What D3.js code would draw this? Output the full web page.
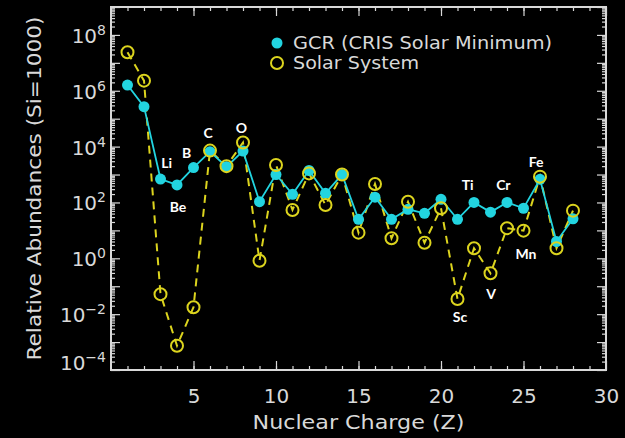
<!DOCTYPE html>
<html>
<head>
<meta charset="utf-8">
<script src="https://cdn.jsdelivr.net/npm/d3@7"></script>
<style>
  html, body { margin: 0; padding: 0; background: #000; }
  svg { display: block; }
</style>
</head>
<body>
<svg id="chart" width="625" height="438"></svg>
<script>
// element symbols and nuclear charge
const elements = ["H", "He", "Li", "Be", "B", "C", "N", "O", "F", "Ne", "Na", "Mg", "Al", "Si",
  "P", "S", "Cl", "Ar", "K", "Ca", "Sc", "Ti", "V", "Cr", "Mn", "Fe", "Co", "Ni"];
const charge = [1, 2, 3, 4, 5, 6, 7, 8, 9, 10, 11, 12, 13, 14,
  15, 16, 17, 18, 19, 20, 21, 22, 23, 24, 25, 26, 27, 28];

// relative abundances (Si = 1000)
const gcrAbundance = [1.6e6, 2.7e5, 690, 425, 1770, 6600, 1900, 6900, 107, 1000, 196, 1400, 213, 1000,
  25, 154, 25, 57, 41, 130, 25, 100, 45, 100, 62, 675, 4, 26];
const solarAbundance = [2.4e7, 2.3e6, 0.052, 7.4e-4, 0.0177, 7200, 2000, 1.4e4, 0.82, 2200, 54, 1100, 81, 1000,
  8.3, 460, 5.2, 106, 3.6, 62, 0.035, 2.3, 0.29, 12, 9.8, 840, 2.3, 51];

// axis ticks
const xTickValues = [5, 10, 15, 20, 25, 30];
const yLabelExponents = [-4, -2, 0, 2, 4, 6, 8];

const legendLabels = ["GCR (CRIS Solar Minimum)", "Solar System"];

// element labels placed in data space (Z, log10 abundance)
const labelSymbols = ["Li", "Be", "B", "C", "O", "Sc", "Ti", "V", "Cr", "Mn", "Fe"];
const labelZ = [3.38, 4.06, 4.59, 5.88, 7.9, 21.15, 21.62, 23.03, 23.78, 25.15, 25.76];
const labelLog = [3.44, 1.85, 3.78, 4.51, 4.69, -2.09, 2.65, -1.25, 2.65, 0.18, 3.46];

const FONT = "'DejaVu Sans', sans-serif";
const AXIS_COLOR = "#d9d9d9";
const CYAN = "#22d4e0";
const YELLOW = "#dcd41e";

const plotLeft = 111, plotRight = 606, plotTop = 7, plotBottom = 370;

const svg = d3.select("#chart");
svg.append("rect").attr("width", 625).attr("height", 438).attr("fill", "#000");

const x = d3.scaleLinear().domain([0, 30]).range([plotLeft, plotRight]);
const y = d3.scaleLog().domain([1e-4, 1e9]).range([plotBottom, plotTop]);

// minor tick positions
const xMinor = d3.range(1, 30);
const yDecades = d3.range(-4, 10).map(e => Math.pow(10, e));
const yMinor = [];
d3.range(-4, 9).forEach(e => {
  for (let k = 2; k <= 9; k++) yMinor.push(k * Math.pow(10, e));
});

function styleAxis(g) {
  g.attr("color", AXIS_COLOR);
  g.select(".domain").remove();
  g.selectAll(".tick line").attr("stroke-width", 1.2);
}

// x axis bottom
svg.append("g")
  .attr("transform", `translate(0,${plotBottom})`)
  .call(d3.axisBottom(x).tickValues(xMinor).tickSize(-4).tickFormat(""))
  .call(styleAxis);
svg.append("g")
  .attr("transform", `translate(0,${plotBottom})`)
  .call(d3.axisBottom(x).tickValues(xTickValues).tickSize(-9).tickPadding(19).tickFormat(d3.format("d")))
  .call(styleAxis)
  .selectAll("text")
  .attr("font-family", FONT)
  .attr("font-size", 20)
  .attr("fill", AXIS_COLOR);

// x axis top (mirrored)
svg.append("g")
  .attr("transform", `translate(0,${plotTop})`)
  .call(d3.axisTop(x).tickValues(xMinor).tickSize(-4).tickFormat(""))
  .call(styleAxis);
svg.append("g")
  .attr("transform", `translate(0,${plotTop})`)
  .call(d3.axisTop(x).tickValues(xTickValues).tickSize(-9).tickFormat(""))
  .call(styleAxis);

// y axis left & right
[[d3.axisLeft, plotLeft], [d3.axisRight, plotRight]].forEach(([axisFn, pos]) => {
  svg.append("g")
    .attr("transform", `translate(${pos},0)`)
    .call(axisFn(y).tickValues(yMinor).tickSize(-4).tickFormat(""))
    .call(styleAxis);
  svg.append("g")
    .attr("transform", `translate(${pos},0)`)
    .call(axisFn(y).tickValues(yDecades).tickSize(-9).tickFormat(""))
    .call(styleAxis);
});

// y tick labels with superscript exponents
const yLabels = svg.append("g")
  .attr("font-family", FONT)
  .attr("fill", AXIS_COLOR)
  .attr("text-anchor", "end");
yLabelExponents.forEach(e => {
  const t = yLabels.append("text")
    .attr("x", plotLeft - 5)
    .attr("y", Math.min(y(Math.pow(10, e)) + 8, plotBottom))
    .attr("font-size", 20);
  t.append("tspan").text("10");
  t.append("tspan")
    .attr("dy", -8)
    .attr("font-size", 14)
    .text(String(e).replace("-", "\u2212"));
});

// frame
svg.append("rect")
  .attr("x", plotLeft).attr("y", plotTop)
  .attr("width", plotRight - plotLeft).attr("height", plotBottom - plotTop)
  .attr("fill", "none")
  .attr("stroke", AXIS_COLOR)
  .attr("stroke-width", 2);

// axis titles
svg.append("text")
  .attr("x", (plotLeft + plotRight) / 2)
  .attr("y", 429)
  .attr("text-anchor", "middle")
  .attr("font-family", FONT)
  .attr("font-size", 20)
  .attr("fill", AXIS_COLOR)
  .attr("textLength", 212)
  .attr("lengthAdjust", "spacingAndGlyphs")
  .text("Nuclear Charge (Z)");

svg.append("text")
  .attr("transform", `translate(41,${(plotTop + plotBottom) / 2}) rotate(-90)`)
  .attr("text-anchor", "middle")
  .attr("font-family", FONT)
  .attr("font-size", 20)
  .attr("fill", AXIS_COLOR)
  .attr("textLength", 344)
  .attr("lengthAdjust", "spacingAndGlyphs")
  .text("Relative Abundances (Si=1000)");

// data
const gcrData = charge.map((z, i) => ({ z, v: gcrAbundance[i], el: elements[i] }));
const solarData = charge.map((z, i) => ({ z, v: solarAbundance[i], el: elements[i] }));

const line = d3.line().x(d => x(d.z)).y(d => y(d.v));

svg.append("path")
  .datum(solarData)
  .attr("d", line)
  .attr("fill", "none")
  .attr("stroke", YELLOW)
  .attr("stroke-width", 2)
  .attr("stroke-dasharray", "8,6");

svg.append("path")
  .datum(gcrData)
  .attr("d", line)
  .attr("fill", "none")
  .attr("stroke", CYAN)
  .attr("stroke-width", 1.8);

svg.selectAll(".gcr")
  .data(gcrData)
  .enter()
  .append("circle")
  .attr("class", "gcr")
  .attr("cx", d => x(d.z))
  .attr("cy", d => y(d.v))
  .attr("r", 5.5)
  .attr("fill", CYAN);

svg.selectAll(".solar")
  .data(solarData)
  .enter()
  .append("circle")
  .attr("class", "solar")
  .attr("cx", d => x(d.z))
  .attr("cy", d => y(d.v))
  .attr("r", 6)
  .attr("fill", "none")
  .attr("stroke", YELLOW)
  .attr("stroke-width", 2);

// legend
const legend = svg.append("g");
legend.append("circle").attr("cx", 277).attr("cy", 43).attr("r", 5.5).attr("fill", CYAN);
legend.append("circle").attr("cx", 277).attr("cy", 63).attr("r", 6)
  .attr("fill", "none").attr("stroke", YELLOW).attr("stroke-width", 2);
legend.selectAll("text")
  .data(legendLabels)
  .enter()
  .append("text")
  .attr("x", 293)
  .attr("y", (d, i) => 49 + i * 20)
  .attr("font-family", FONT)
  .attr("font-size", 17)
  .attr("fill", AXIS_COLOR)
  .attr("textLength", (d, i) => [259, 126][i])
  .attr("lengthAdjust", "spacingAndGlyphs")
  .text(d => d);

// element annotations
svg.selectAll(".elabel")
  .data(labelSymbols)
  .enter()
  .append("text")
  .attr("class", "elabel")
  .attr("x", (d, i) => x(labelZ[i]))
  .attr("y", (d, i) => y(Math.pow(10, labelLog[i])))
  .attr("text-anchor", "middle")
  .attr("dominant-baseline", "central")
  .attr("font-family", "Lato, 'Open Sans', sans-serif")
  .attr("font-weight", "bold")
  .attr("font-size", 14)
  .attr("fill", "#fff")
  .text(d => d);
</script>
</body>
</html>
